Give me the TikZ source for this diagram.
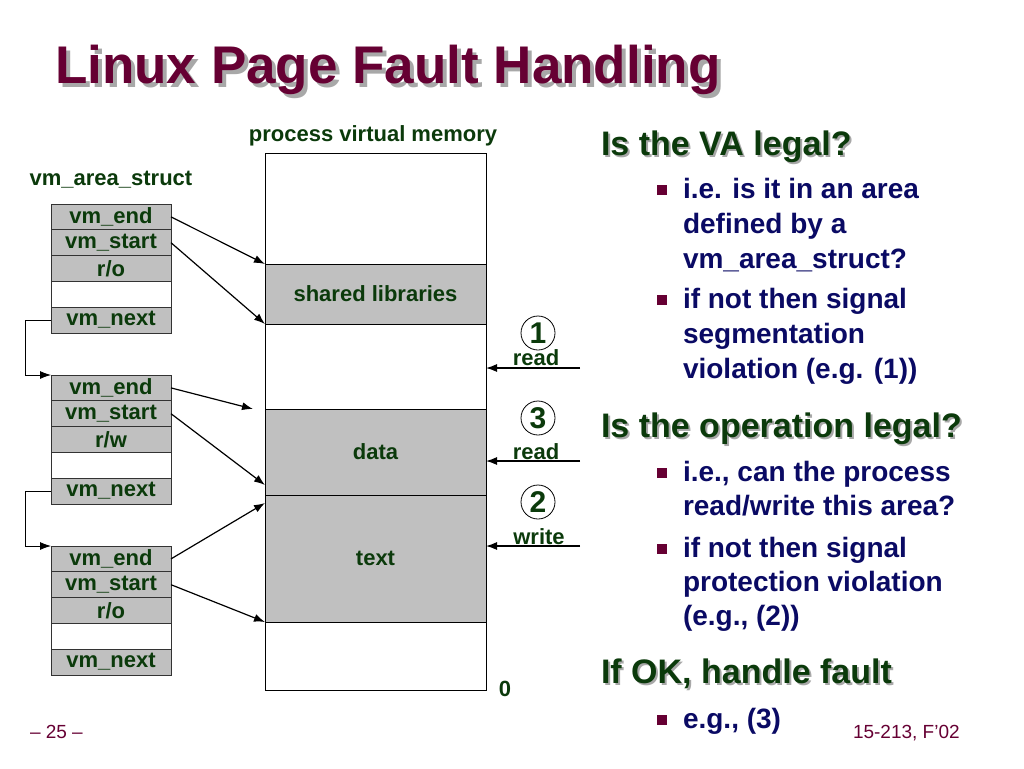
\documentclass[tikz,border=0pt]{standalone}
\usepackage{fontspec}
\setmainfont{Liberation Sans}
\usepackage{xcolor}
\usepackage{tikz}
\usetikzlibrary{arrows.meta,positioning}
\definecolor{slidemaroon}{HTML}{660033}
\definecolor{labgreen}{HTML}{0B3A0B}
\definecolor{bodynavy}{HTML}{0A0A64}
\definecolor{cellgray}{HTML}{C0C0C0}
\definecolor{shadowgray}{HTML}{A8A8A8}
\newcommand{\titlefont}{\fontsize{53}{60}\selectfont\bfseries}
\newcommand{\headfont}{\fontsize{34}{40}\selectfont\bfseries}
\newcommand{\bodyfont}{\fontsize{28}{34}\selectfont\bfseries}
\newcommand{\labfont}{\fontsize{22}{26}\selectfont\bfseries}
\newcommand{\opfont}{\fontsize{30}{32}\selectfont\bfseries}
\newcommand{\pagefont}{\fontsize{19}{22}\selectfont}
\begin{document}
\begin{tikzpicture}[x=1pt,y=-1pt]
\tikzstyle{every node}+=[inner sep=0pt, outer sep=0pt]
\tikzstyle{row}=[draw=black!80, line width=0.8pt, fill=cellgray, minimum width=120pt, minimum height=25.8pt, font=\labfont, text=labgreen]
\tikzstyle{seg}=[draw=black, line width=0.8pt, minimum width=221pt, font=\labfont, text=labgreen]
\tikzstyle{ptr}=[-{Latex[length=11pt,width=8pt]}, line width=1.2pt]
\tikzstyle{op}=[circle, draw, line width=0.8pt, minimum size=34pt, font=\opfont, text=labgreen]
\tikzstyle{lab}=[font=\labfont, text=labgreen]
\tikzstyle{body}=[font=\bodyfont, text=bodynavy, anchor=base west]
\tikzstyle{bul}=[rectangle, fill=slidemaroon, minimum size=10pt]
\useasboundingbox (0,0) rectangle (1024,768);
% title
\node[font=\titlefont, text=shadowgray, anchor=base west] (titleshadow) at (59,87) {Linux Page Fault Handling};
\node[font=\titlefont, text=slidemaroon, anchor=base west] (title) at (55,83) {Linux Page Fault Handling};
% vm_area_struct list
\node[lab] (structlab) at (111,180) {vm\_area\_struct};
\foreach \s/\top/\perm in {1/204/o,2/375/w,3/546/o} {
  \node[row] (end\s) at (111,\top+12.9) {vm\_end};
  \node[row] (start\s) at (111,\top+38.7) {vm\_start};
  \node[row] (perm\s) at (111,\top+64.5) {r/\perm};
  \node[row, fill=white] (gap\s) at (111,\top+90.3) {};
  \node[row] (next\s) at (111,\top+116.1) {vm\_next};
}
\foreach \s/\t in {1/2,2/3}
  \draw[ptr, line width=0.8pt] (next\s.west) -- ++(-26,0) |- (end\t.north west);
% process virtual memory
\node[lab] (memlab) at (373,136) {process virtual memory};
\node[seg, minimum height=111pt] (memtop) at (375.5,208.5) {};
\node[seg, minimum height=60pt, fill=cellgray] (shlib) at (375.5,294) {shared libraries};
\node[seg, minimum height=85pt] (memgap) at (375.5,366.5) {};
\node[seg, minimum height=86pt, fill=cellgray] (data) at (375.5,452) {data};
\node[seg, minimum height=127pt, fill=cellgray] (text) at (375.5,558.5) {text};
\node[seg, minimum height=68pt] (membot) at (375.5,656) {};
\node[lab] (zero) at (505,689) {0};
\draw[ptr] (end1.east) -- (shlib.north west);
\draw[ptr] (start1.east) -- (shlib.south west);
\draw[ptr] (end2.east) -- ([xshift=-12pt]data.north west);
\draw[ptr] (start2.east) -- ([yshift=10pt]data.south west);
\draw[ptr] (end3.east) -- ([yshift=-8pt]text.north west);
\draw[ptr] (start3.east) -- (text.south west);
% accesses
\node[op] (op1) at (538,333) {1};
\node[lab] (acc1) at (536,358) {read};
\node[op] (op3) at (538,418) {3};
\node[lab] (acc3) at (536,452) {read};
\node[op] (op2) at (538,502) {2};
\node[lab] (acc2) at (539,537) {write};
\coordinate (a1) at (580,368);
\coordinate (a3) at (580,461);
\coordinate (a2) at (580,546);
\draw[ptr] (a1) -- (a1 -| memgap.east);
\draw[ptr] (a3) -- (a3 -| data.east);
\draw[ptr] (a2) -- (a2 -| text.east);
% right column
\node[font=\headfont, text=shadowgray, anchor=base west] (h1s) at (603,157) {Is the VA legal?};
\node[font=\headfont, text=labgreen, anchor=base west] (h1) at (601,155) {Is the VA legal?};
\node[bul] (q1) at (662,190) {};
\node[body] (t1a) at (683,198) {i.e. is it in an area};
\node[body] (t1b) at (683,233) {defined by a};
\node[body] (t1c) at (683,268) {vm\_area\_struct?};
\node[bul] (q2) at (662,300) {};
\node[body] (t2a) at (683,308) {if not then signal};
\node[body] (t2b) at (683,343) {segmentation};
\node[body] (t2c) at (683,378) {violation (e.g. (1))};
\node[font=\headfont, text=shadowgray, anchor=base west] (h2s) at (603,439) {Is the operation legal?};
\node[font=\headfont, text=labgreen, anchor=base west] (h2) at (601,437) {Is the operation legal?};
\node[bul] (q3) at (662,473) {};
\node[body] (t3a) at (683,481) {i.e., can the process};
\node[body] (t3b) at (683,515) {read/write this area?};
\node[bul] (q4) at (662,549) {};
\node[body] (t4a) at (683,557) {if not then signal};
\node[body] (t4b) at (683,591) {protection violation};
\node[body] (t4c) at (683,625) {(e.g., (2))};
\node[font=\headfont, text=shadowgray, anchor=base west] (h3s) at (603,685) {If OK, handle fault};
\node[font=\headfont, text=labgreen, anchor=base west] (h3) at (601,683) {If OK, handle fault};
\node[bul] (q5) at (662,720) {};
\node[body] (t5a) at (683,728) {e.g., (3)};
% footer
\node[font=\pagefont, text=slidemaroon, anchor=base west] (pageno) at (30,738) {– 25 –};
\node[font=\pagefont, text=slidemaroon, anchor=base west] (course) at (853,738) {15-213, F’02};
\end{tikzpicture}
\end{document}
